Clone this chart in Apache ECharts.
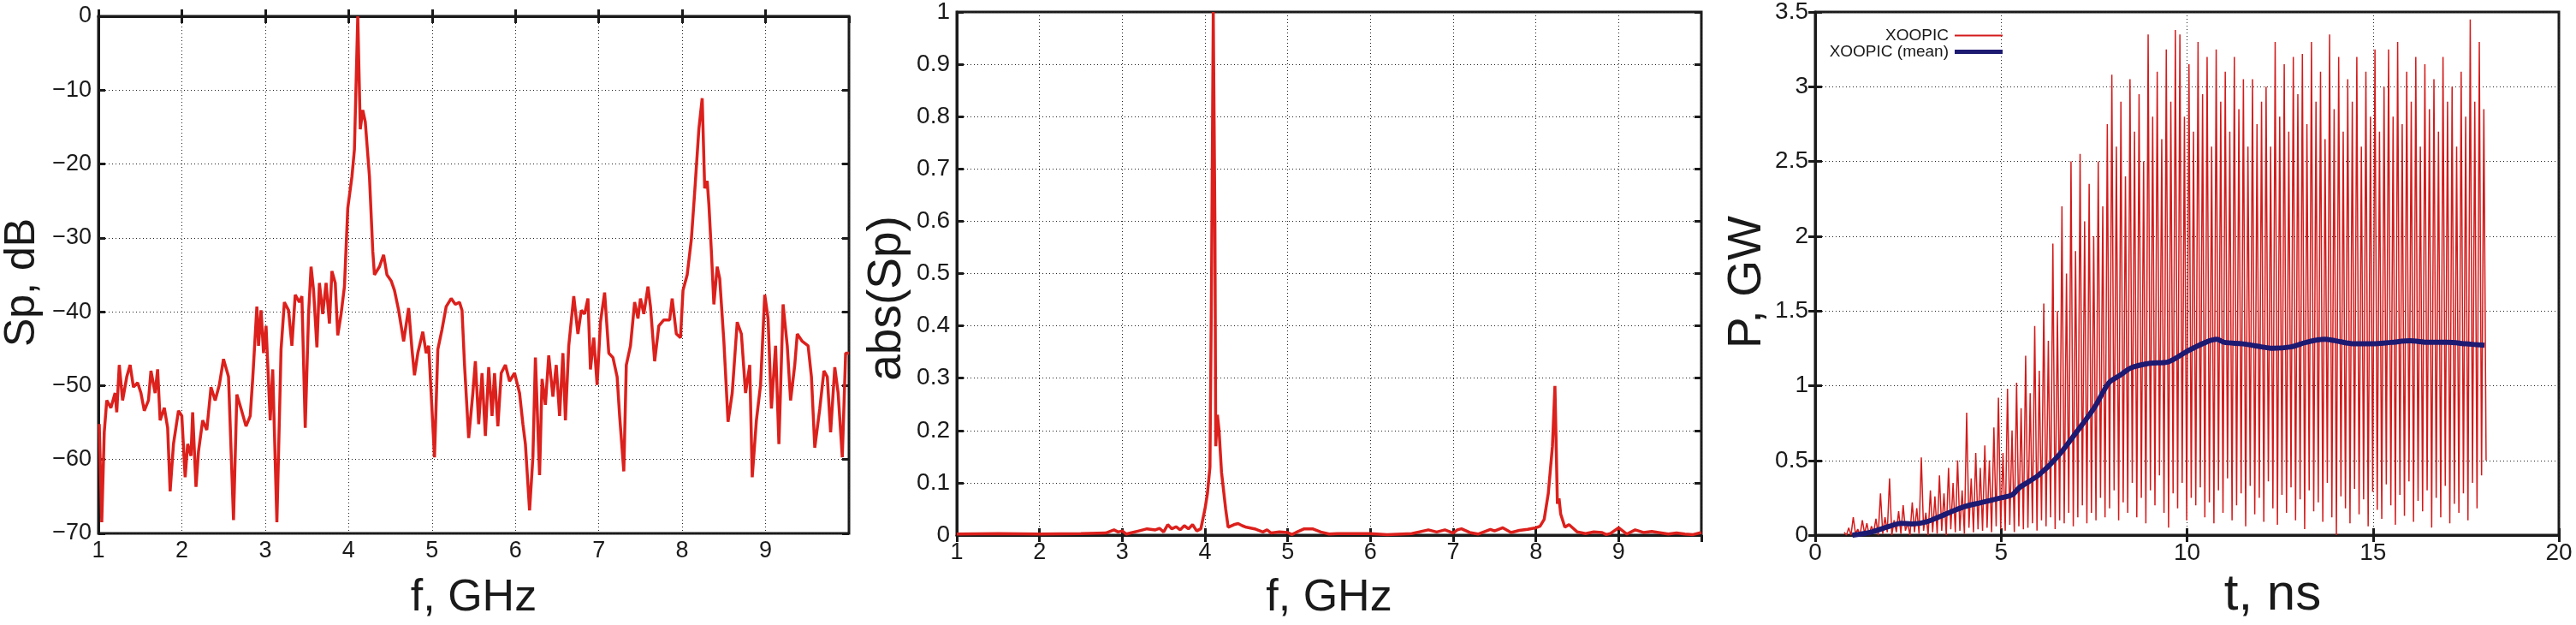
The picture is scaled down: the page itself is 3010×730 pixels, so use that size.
<!DOCTYPE html>
<html>
<head>
<meta charset="utf-8">
<script src="https://cdn.jsdelivr.net/npm/echarts@6/dist/echarts.min.js"></script>
<style>
  html, body { margin: 0; padding: 0; background: #fff; }
  #chart { width: 3010px; height: 730px; }
</style>
</head>
<body>
<div id="chart"></div>
<script>
// spectrum, dB (panel 1)
const freqDb = [1.01,1.04,1.07,1.10,1.15,1.20,1.22,1.25,1.29,1.34,1.38,1.42,1.47,1.51,1.55,1.60,1.63,1.68,1.71,1.74,
  1.79,1.83,1.86,1.90,1.96,2.00,2.04,2.07,2.11,2.13,2.17,2.20,2.25,2.30,2.35,2.40,2.45,2.50,2.56,2.62,
  2.66,2.71,2.77,2.82,2.85,2.90,2.92,2.95,2.98,3.01,3.06,3.09,3.14,3.19,3.23,3.28,3.32,3.36,3.41,3.44,
  3.48,3.52,3.55,3.58,3.62,3.65,3.69,3.73,3.77,3.80,3.84,3.87,3.91,3.95,3.99,4.04,4.07,4.11,4.14,4.17,
  4.20,4.25,4.29,4.31,4.37,4.42,4.46,4.51,4.55,4.60,4.66,4.72,4.76,4.79,4.83,4.89,4.93,4.96,5.03,5.07,
  5.12,5.17,5.23,5.28,5.33,5.36,5.39,5.44,5.49,5.52,5.56,5.60,5.64,5.68,5.72,5.75,5.79,5.83,5.88,5.93,
  5.99,6.05,6.09,6.12,6.17,6.21,6.24,6.29,6.32,6.36,6.40,6.45,6.49,6.53,6.57,6.60,6.64,6.70,6.75,6.79,
  6.83,6.87,6.90,6.94,6.98,7.02,7.07,7.12,7.17,7.22,7.25,7.30,7.33,7.38,7.43,7.47,7.50,7.54,7.59,7.62,
  7.67,7.72,7.78,7.85,7.88,7.93,7.98,8.01,8.06,8.11,8.15,8.20,8.24,8.27,8.30,8.32,8.35,8.38,8.42,8.45,
  8.50,8.55,8.60,8.66,8.71,8.76,8.81,8.84,8.89,8.94,8.99,9.03,9.07,9.12,9.16,9.21,9.26,9.30,9.35,9.38,
  9.44,9.51,9.55,9.59,9.65,9.70,9.74,9.78,9.83,9.87,9.92,9.96,10.0];
const spDb = [-55.2,-68.5,-56.3,-52,-53,-51,-53.6,-47.2,-52,-48.8,-47.2,-50.2,-49.6,-51,-53.4,-52,-48,-51,-47.8,-54.7,
  -53,-55.7,-64.3,-57.9,-53.4,-54.1,-62.4,-57.9,-59.5,-53.6,-63.7,-58.9,-54.7,-56,-50.2,-52,-49.9,-46.4,-48.8,-68.2,
  -51.2,-53.1,-55.5,-54.1,-49.1,-39.3,-44.6,-39.8,-45.6,-41.9,-54.7,-47.8,-68.5,-45.1,-38.7,-39.8,-44.6,-37.7,-38.7,-37.9,
  -55.7,-40.3,-33.9,-37.1,-44.8,-36.1,-40.3,-36.1,-41.6,-34.5,-36.1,-43.2,-40.3,-36.6,-26,-21.7,-18,0,-15.3,-12.7,
  -14.3,-21.7,-31.8,-35,-33.9,-32.3,-35,-35.8,-37.1,-39.8,-44,-39.5,-45.1,-48.6,-45.6,-42.7,-45.6,-44.6,-59.7,-45.1,
  -42.4,-39.3,-38.2,-39,-38.7,-39.8,-47.2,-57.1,-51,-46.7,-55.2,-48.3,-56.8,-47.5,-54.1,-48.3,-55.5,-48.3,-47.2,-49.4,
  -48.3,-51,-55.2,-57.9,-66.9,-59.7,-46.2,-62.1,-49.1,-52.6,-45.9,-51.5,-47.2,-54.1,-45.6,-54.7,-44.6,-37.9,-43,-39.8,
  -40.3,-38.2,-47.8,-43.5,-49.9,-41.4,-37.4,-45.6,-46.2,-48.8,-54.1,-61.6,-47.2,-44.6,-38.7,-40.9,-38.2,-40.3,-36.6,-39.3,
  -46.7,-41.9,-41.1,-41.1,-38.2,-43,-43.5,-37.1,-35,-30.2,-23.8,-15.3,-11.1,-23.3,-22.3,-25.4,-31.8,-39,-33.9,-35.5,
  -44,-54.9,-51,-41.4,-43,-51,-47.2,-62.4,-54.7,-49.9,-37.7,-40.9,-53.1,-44.6,-57.9,-39,-44.6,-52,-47.2,-43,
  -44,-44.6,-48.8,-58.4,-53.1,-48,-48.8,-56.3,-47.5,-51,-59.7,-45.6,-45.6];

// spectrum, linear (panel 2)
const freqAbs = [1.0,1.5,2.0,2.5,2.8,2.9,2.95,3.0,3.05,3.1,3.2,3.3,3.4,3.45,3.5,3.55,3.6,3.65,3.7,3.75,
  3.8,3.85,3.9,3.95,4.0,4.03,4.06,4.08,4.10,4.12,4.13,4.15,4.17,4.2,4.25,4.28,4.35,4.4,4.45,4.5,
  4.6,4.7,4.75,4.8,4.9,5.0,5.05,5.1,5.2,5.3,5.4,5.5,5.6,6.0,6.2,6.5,6.7,6.8,6.9,7.0,
  7.05,7.1,7.2,7.3,7.45,7.5,7.6,7.7,7.8,7.9,8.0,8.05,8.1,8.15,8.2,8.23,8.26,8.28,8.3,8.35,
  8.4,8.45,8.5,8.6,8.7,8.8,8.85,8.9,9.0,9.05,9.1,9.2,9.3,9.4,9.6,9.7,9.8,9.9,10.0];
const spAbs = [0.002,0.003,0.002,0.003,0.004,0.01,0.006,0.008,0.002,0.004,0.008,0.012,0.01,0.013,0.006,0.02,0.012,0.016,0.01,0.018,
  0.012,0.02,0.008,0.012,0.05,0.08,0.13,0.5,1.0,0.6,0.17,0.23,0.2,0.12,0.05,0.015,0.02,0.022,0.018,0.015,
  0.012,0.006,0.01,0.004,0.006,0.005,0.001,0.005,0.012,0.012,0.006,0.002,0.003,0.003,0.001,0.003,0.01,0.006,0.01,0.004,
  0.01,0.012,0.005,0.002,0.011,0.008,0.014,0.005,0.009,0.011,0.014,0.017,0.03,0.08,0.17,0.285,0.06,0.07,0.04,0.015,
  0.02,0.013,0.006,0.003,0.006,0.005,0.001,0.003,0.014,0.008,0.002,0.01,0.005,0.007,0.002,0.004,0.002,0.001,0.005];

// power, one peak and one trough per RF half-period (panel 3)
const pStart = 0.78;
const pHalfStep = 0.061;
const pPeaks = [0.02,0.05,0.12,0.04,0.1,0.08,0.06,0.11,0.28,0.12,
  0.38,0.1,0.16,0.2,0.08,0.22,0.18,0.52,0.15,0.3,
  0.26,0.4,0.28,0.45,0.35,0.5,0.3,0.82,0.38,0.55,
  0.45,0.6,0.5,0.72,0.92,0.55,0.98,0.7,1.02,0.85,
  1.2,0.95,1.4,1.1,1.55,1.3,1.95,1.5,2.2,1.75,
  2.5,1.9,2.55,2.1,2.35,2.0,2.5,2.2,2.75,3.08,
  2.6,2.9,2.4,3.05,2.7,2.95,2.5,3.35,2.8,3.1,
  2.65,3.25,2.9,3.38,3.35,2.8,3.15,2.7,3.3,2.95,
  3.2,2.6,3.25,2.9,3.1,2.7,3.2,2.85,3.05,2.6,
  3.05,2.75,2.9,3.0,2.6,3.3,2.8,3.15,2.7,3.2,
  2.95,3.22,2.75,3.3,2.9,3.1,2.65,3.35,2.85,3.2,
  2.7,3.05,2.9,3.2,2.6,3.1,2.8,3.25,2.7,3.0,
  3.25,2.8,3.3,2.75,3.1,2.9,3.2,2.6,3.15,2.85,
  3.05,2.7,3.2,2.9,3.0,2.6,3.1,2.8,3.45,2.9,
  3.3,2.85];
const pTroughs = [0,0,0.01,0,0.01,0,0.02,0,0.01,0.02,
  0,0.02,0.01,0.03,0,0.02,0.01,0.03,0,0.02,
  0.01,0.03,0,0.04,0.02,0.03,0.01,0.05,0.02,0.04,
  0.03,0.05,0.02,0.06,0.04,0.03,0.07,0.02,0.06,0.04,
  0.05,0.08,0.03,0.1,0.06,0.12,0.04,0.1,0.08,0.15,
  0.06,0.12,0.2,0.08,0.15,0.1,0.25,0.12,0.18,0.3,
  0.1,0.22,0.15,0.35,0.12,0.25,0.08,0.3,0.2,0.4,
  0.15,0.05,0.28,0.18,0.35,0.1,0.25,0.2,0.32,0.12,
  0.22,0.08,0.3,0.15,0.38,0.1,0.2,0.28,0.06,0.33,
  0.14,0.25,0.09,0.36,0.18,0.07,0.27,0.15,0.32,0.1,
  0.24,0.04,0.3,0.16,0.22,0.09,0.35,0.12,0.0,0.26,
  0.18,0.08,0.31,0.14,0.24,0.06,0.29,0.17,0.11,0.34,
  0.2,0.07,0.27,0.13,0.36,0.09,0.23,0.16,0.3,0.05,
  0.25,0.12,0.33,0.08,0.21,0.15,0.28,0.1,0.35,0.18,
  0.4,0.5];
const meanT = [1.0,1.5,2.0,2.3,2.6,3.0,3.5,4.0,4.5,5.0,5.3,5.5,6.0,6.5,7.0,7.5,7.9,8.2,8.5,9.0,
  9.5,10.0,10.5,10.8,11.0,11.5,12.0,12.3,12.8,13.2,13.7,14.0,14.5,15.0,15.5,16.0,16.5,17.0,17.5,18.0];
const meanP = [0,0.02,0.06,0.08,0.075,0.09,0.14,0.19,0.22,0.25,0.27,0.32,0.4,0.52,0.68,0.85,1.02,1.07,1.12,1.15,
  1.16,1.23,1.29,1.31,1.29,1.28,1.26,1.25,1.26,1.29,1.31,1.3,1.28,1.28,1.29,1.3,1.29,1.29,1.28,1.27];

const FONT = "'Liberation Sans', Arial, sans-serif";
const RED = '#dc201c';
const NAVY = '#1d1a72';
const INK = '#1a1a1a';

const dbPoints = freqDb.map((f, i) => [f, spDb[i]]);
const absPoints = freqAbs.map((f, i) => [f, spAbs[i]]);
const powerPoints = [];
pPeaks.forEach((p, i) => {
  powerPoints.push([pStart + 2 * i * pHalfStep, p]);
  powerPoints.push([pStart + (2 * i + 1) * pHalfStep, pTroughs[i]]);
});
const meanPoints = meanT.map((t, i) => [t, meanP[i]]);

const minus = v => String(v).replace('-', '\u2212');

// one main axis pair per panel, plus a mirrored pair for the ticks on top and right
function mainX(gridIndex, min, max, interval, fontSize, hideLast) {
  return {
    type: 'value', gridIndex, min, max, interval,
    axisLine: { show: true, lineStyle: { color: INK, width: 3 } },
    axisTick: { show: true, inside: true, length: 8, lineStyle: { color: INK, width: 3 } },
    axisLabel: {
      color: INK, fontFamily: FONT, fontSize, margin: 7,
      showMaxLabel: !hideLast, showMinLabel: true
    },
    splitLine: { show: true, lineStyle: { color: '#222', width: 1, type: [1, 3] } }
  };
}
function mainY(gridIndex, min, max, interval, fontSize, formatter) {
  return {
    type: 'value', gridIndex, min, max, interval,
    axisLine: { show: true, lineStyle: { color: INK, width: 3 } },
    axisTick: { show: true, inside: true, length: 8, lineStyle: { color: INK, width: 3 } },
    axisLabel: { color: INK, fontFamily: FONT, fontSize, margin: 8, formatter },
    splitLine: { show: true, lineStyle: { color: '#222', width: 1, type: [1, 3] } }
  };
}
function mirror(gridIndex, min, max, interval, position) {
  return {
    type: 'value', gridIndex, min, max, interval, position,
    axisLine: { show: false },
    axisTick: { show: true, inside: true, length: 8, lineStyle: { color: INK, width: 3 } },
    axisLabel: { show: false },
    splitLine: { show: false }
  };
}

const chart = echarts.init(document.getElementById('chart'));

const xAxes = [
  Object.assign(mainX(0, 1, 10, 1, 27, true), {
    name: 'f, GHz', nameLocation: 'middle', nameGap: 50,
    nameTextStyle: { fontFamily: FONT, fontSize: 52, color: INK }
  }),
  Object.assign(mainX(1, 1, 10, 1, 27, true), {
    name: 'f, GHz', nameLocation: 'middle', nameGap: 48,
    nameTextStyle: { fontFamily: FONT, fontSize: 52, color: INK }
  }),
  Object.assign(mainX(2, 0, 20, 5, 28, false), {
    name: 't, ns', nameLocation: 'middle', nameGap: 22,
    nameTextStyle: { fontFamily: FONT, fontSize: 60, color: INK, padding: [0, 0, 0, 200] }
  }),
  mirror(0, 1, 10, 1, 'top'),
  mirror(1, 1, 10, 1, 'top'),
  mirror(2, 0, 20, 5, 'top')
];

const yAxes = [
  Object.assign(mainY(0, -70, 0, 10, 27, minus), {
    name: 'Sp, dB', nameLocation: 'middle', nameGap: 64,
    nameTextStyle: { fontFamily: FONT, fontSize: 50, color: INK, padding: [0, 18, 0, 0] }
  }),
  Object.assign(mainY(1, 0, 1, 0.1, 28), {
    name: 'abs(Sp)', nameLocation: 'middle', nameGap: 54,
    nameTextStyle: { fontFamily: FONT, fontSize: 55, color: INK, padding: [0, 58, 0, 0] }
  }),
  Object.assign(mainY(2, 0, 3.5, 0.5, 28), {
    name: 'P, GW', nameLocation: 'middle', nameGap: 52,
    nameTextStyle: { fontFamily: FONT, fontSize: 55, color: INK, padding: [0, 20, 0, 0] }
  }),
  mirror(0, -70, 0, 10, 'right'),
  mirror(1, 0, 1, 0.1, 'right'),
  mirror(2, 0, 3.5, 0.5, 'right')
];

chart.setOption({
  animation: false,
  backgroundColor: '#fff',
  grid: [
    { left: 110, top: 19, width: 882, height: 613, show: true, borderColor: INK, borderWidth: 3 },
    { left: 1118, top: 13, width: 870, height: 614, show: true, borderColor: INK, borderWidth: 3 },
    { left: 2121, top: 13, width: 869, height: 615, show: true, borderColor: INK, borderWidth: 3 }
  ],
  legend: [
    {
      data: [{ name: 'XOOPIC', icon: 'rect' }], right: 665, top: 27, align: 'right',
      itemWidth: 56, itemHeight: 2, itemGap: 4,
      textStyle: { fontFamily: FONT, fontSize: 19, color: INK, padding: [0, 2, 0, 0] }
    },
    {
      data: [{ name: 'XOOPIC (mean)', icon: 'rect' }], right: 665, top: 46, align: 'right',
      itemWidth: 56, itemHeight: 5, itemGap: 4,
      textStyle: { fontFamily: FONT, fontSize: 19, color: INK, padding: [0, 2, 0, 0] }
    }
  ],
  xAxis: xAxes,
  yAxis: yAxes,
  series: [
    {
      type: 'line', xAxisIndex: 0, yAxisIndex: 0, data: dbPoints,
      symbol: 'none', lineStyle: { color: RED, width: 3.5 }, clip: true
    },
    {
      type: 'line', xAxisIndex: 1, yAxisIndex: 1, data: absPoints,
      symbol: 'none', lineStyle: { color: RED, width: 3.5 }, clip: true
    },
    {
      name: 'XOOPIC', type: 'line', xAxisIndex: 2, yAxisIndex: 2, data: powerPoints,
      symbol: 'none', itemStyle: { color: '#d41a1a' }, lineStyle: { color: '#d41a1a', width: 1.5 }
    },
    {
      name: 'XOOPIC (mean)', type: 'line', xAxisIndex: 2, yAxisIndex: 2, data: meanPoints,
      symbol: 'none', smooth: 0.3, itemStyle: { color: NAVY }, lineStyle: { color: NAVY, width: 6 }
    }
  ]
});
</script>
</body>
</html>
